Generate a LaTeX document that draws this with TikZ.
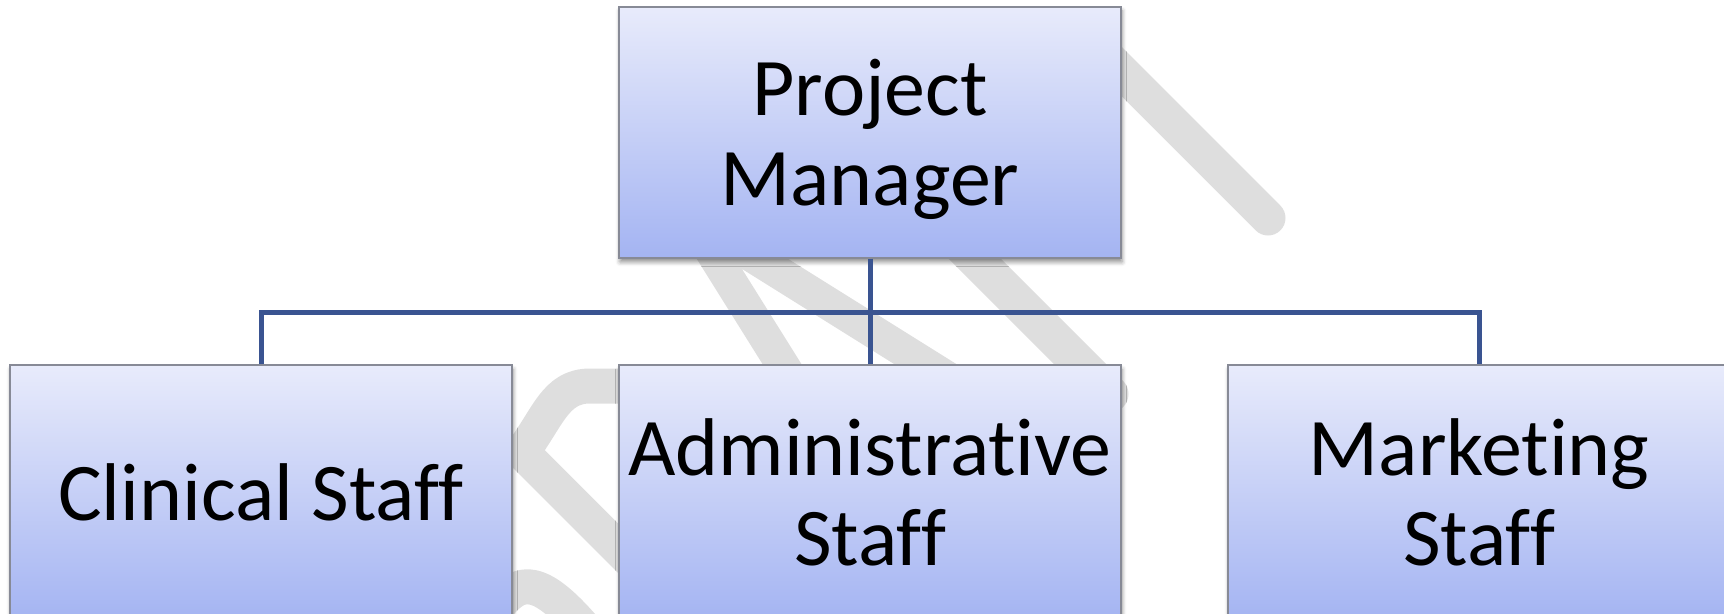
\documentclass[tikz,border=0pt]{standalone}
\usepackage{fontspec}
\setmainfont{Carlito}[Ligatures={NoCommon}]
\usetikzlibrary{positioning,shadows.blur}

\definecolor{boxtop}{RGB}{232,235,251}
\definecolor{boxbot}{RGB}{164,180,242}
\definecolor{boxline}{RGB}{135,138,150}
\definecolor{linkblue}{RGB}{58,84,145}
\definecolor{wmgray}{RGB}{222,222,222}

\tikzset{
  orgbox/.style={draw=boxline, line width=0.04cm, top color=boxtop, bottom color=boxbot,
    minimum width=10.04cm, minimum height=5.02cm, align=center, text depth=0pt,
    font=\fontsize{46.6}{51.2}\selectfont,
    blur shadow={shadow xshift=0.6pt, shadow yshift=-2.5pt, shadow blur radius=2.5pt, shadow opacity=45}},
  link/.style={draw=linkblue, line width=0.1cm},
  wm/.style={draw=wmgray, line width=0.7cm, line cap=round, line join=round}
}

\begin{document}
\begin{tikzpicture}
\useasboundingbox (0,0) rectangle (34.48,-12.26);

% grey strokes in the background
\draw[wm] (21.6,-0.6) -- (25.36,-4.36);
\draw[wm, line width=0.66cm] (20.2,-8.34) -- (13.8,-4.34) -- (16.34,-8.4);
\draw[wm, line width=0.74cm] (19.12,-4.8) -- (22.2,-7.88);
\draw[wm] (13.2,-11.8) -- (10.44,-9.04) .. controls (10.96,-8.36) and (11.1,-7.72) .. (11.8,-7.72) -- (13.2,-7.72);
\draw[wm] (9.96,-12.12) .. controls (10.4,-11.56) and (10.8,-11.5) .. (11.8,-12.7);

% boxes
\node[orgbox] (pm) at (17.40,-2.64) {Project\\Manager};
\node[orgbox, minimum height=5.1cm, below=2.11 of pm] (admin) {Administrative\\Staff};
\node[orgbox, minimum height=5.1cm, left=2.1 of admin] (clin) {Clinical Staff};
\node[orgbox, minimum height=5.1cm, right=2.1 of admin] (mkt) {Marketing\\Staff};

% connectors
\coordinate[below=1.07 of pm.south] (bus);
\draw[link] (pm.south) -- (bus);
\draw[link] (bus) -| (clin.north);
\draw[link] (bus) -- (admin.north);
\draw[link] (bus) -| (mkt.north);
\end{tikzpicture}
\end{document}
